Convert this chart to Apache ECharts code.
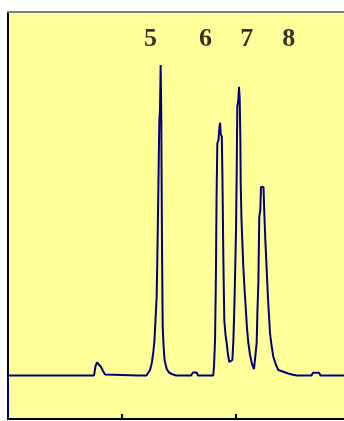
<!DOCTYPE html>
<html>
<head>
<meta charset="utf-8">
<script src="https://cdn.jsdelivr.net/npm/echarts@6/dist/echarts.min.js"></script>
<style>
  html, body { margin: 0; padding: 0; background: #fff; }
  #chart { width: 344px; height: 421px; }
</style>
</head>
<body>
<div id="chart"></div>
<script>
// retention time (x) and detector signal above baseline (y)
var traceTime = [
    0, 0, 7.54, 7.68, 7.81, 7.98, 8.16, 8.33, 8.51, 8.68,
    11.4, 11.43, 11.49, 12.15, 12.28, 12.46, 12.63, 12.75, 12.85, 12.98,
    13.04, 13.11, 13.2, 13.27, 13.33, 13.39, 13.45, 13.46, 13.51, 13.57,
    13.64, 13.73, 13.92, 14.12, 14.36, 14.74, 16.05, 16.23, 16.54, 16.67,
    18.0, 18.07, 18.16, 18.22, 18.25, 18.29, 18.36, 18.46, 18.54, 18.6,
    18.66, 18.75, 18.8, 18.83, 18.89, 18.97, 19.08, 19.18, 19.3, 19.41,
    19.56, 19.68, 19.77, 19.87, 20.0, 20.06, 20.11, 20.2, 20.26, 20.32,
    20.38, 20.41, 20.48, 20.64, 20.75, 20.88, 20.96, 21.08, 21.23, 21.4,
    21.58, 21.71, 21.81, 21.88, 21.96, 22.04, 22.13, 22.19, 22.41, 22.48,
    22.57, 22.69, 22.81, 22.98, 23.11, 23.27, 23.51, 23.71, 24.15, 24.56,
    25.0, 25.32, 26.62, 26.75, 27.28, 27.41, 29.47
];
var traceSignal = [
    -43.5, 0, 0, 9.5, 13, 12.5, 8.5, 4.5, 1, 0,
    0, -1.5, 0, 0, 2.5, 5.5, 13.5, 23.8, 35.5, 65.5,
    78.5, 125.5, 195.5, 253.5, 265.5, 310.5, 255.5, 222.5, 125.5, 48.8,
    30.5, 15.5, 6.5, 3, 1.5, 0, 0, 3, 3, 0,
    0, 9.5, 35.5, 85.5, 118.8, 175.5, 232.2, 235.5, 247.5, 252.8,
    241.5, 238.8, 205.5, 175.5, 115.5, 55.5, 40.5, 32.5, 20.5, 13.5,
    11.5, 15.5, 35.5, 75.5, 145.5, 205.5, 268.8, 275.5, 288.8, 277.5,
    235.5, 192.5, 155.5, 108.8, 85.5, 62.5, 47.5, 32.5, 20.5, 11.5,
    6.5, 8.5, 32.5, 65.5, 92.5, 158.8, 165.5, 188.5, 188.5, 162.5,
    135.5, 105.5, 75.5, 42.5, 30.5, 18.8, 10.5, 5.5, 3.8, 2,
    0.8, 0, 0, 2.8, 2.8, 0, 0
];

// peak numbers written above the peaks
var peakNames = ['5', '6', '7', '8'];
var peakLabelTime = [12.5, 17.33, 20.94, 24.63];
var peakLabelLevel = [336, 336, 336, 336];

// x axis tick marks
var timeTicks = [10, 20];

var chart = echarts.init(document.getElementById('chart'));

var trace = [];
for (var i = 0; i < traceTime.length; i++) {
    trace.push([traceTime[i], traceSignal[i]]);
}
var labels = [];
for (var j = 0; j < peakNames.length; j++) {
    labels.push({ name: peakNames[j], value: [peakLabelTime[j], peakLabelLevel[j]] });
}

var option = {
    animation: false,
    backgroundColor: '#ffffff',
    grid: {
        left: 8,
        right: 0,
        top: 12,
        bottom: 2,
        show: true,
        backgroundColor: '#FFFF99',
        borderWidth: 0
    },
    xAxis: [{
        type: 'value',
        min: 0,
        max: 29.47,
        position: 'bottom',
        splitLine: { show: false },
        axisLabel: { show: false },
        axisLine: { show: true, onZero: false, lineStyle: { color: '#000000', width: 2 } },
        axisTick: {
            show: true,
            inside: true,
            length: 5,
            customValues: timeTicks,
            lineStyle: { color: '#000000', width: 2 }
        }
    }, {
        type: 'value',
        min: 0,
        max: 29.47,
        position: 'top',
        splitLine: { show: false },
        axisLabel: { show: false },
        axisTick: { show: false },
        axisLine: { show: true, onZero: false, lineStyle: { color: '#808080', width: 2 } }
    }],
    yAxis: {
        type: 'value',
        min: -43.5,
        max: 363.5,
        splitLine: { show: false },
        axisLabel: { show: false },
        axisTick: { show: false },
        axisLine: { show: true, onZero: false, lineStyle: { color: '#000000', width: 2 } }
    },
    series: [{
        type: 'line',
        data: trace,
        showSymbol: false,
        lineStyle: { color: '#000080', width: 2 },
        z: 3
    }, {
        type: 'scatter',
        data: labels,
        symbolSize: 0,
        silent: true,
        label: {
            show: true,
            position: 'inside',
            formatter: '{b}',
            color: '#000000',
            fontFamily: 'Liberation Serif',
            fontWeight: 'bold',
            fontSize: 26
        }
    }]
};
chart.setOption(option);
</script>
</body>
</html>
